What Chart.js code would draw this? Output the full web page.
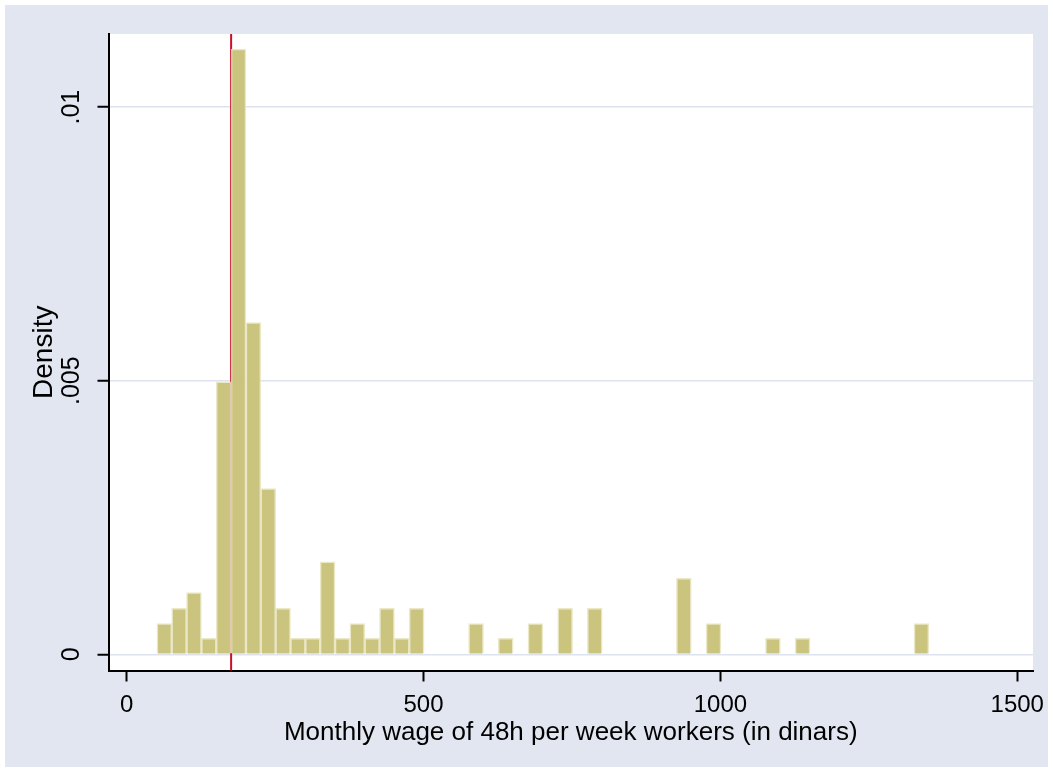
<!DOCTYPE html>
<html>
<head>
<meta charset="utf-8">
<script src="https://cdn.jsdelivr.net/npm/chart.js@4/dist/chart.umd.min.js"></script>
<style>
  html, body { margin: 0; padding: 0; background: #ffffff; }
  #wrap {
    position: absolute; left: 5px; top: 5px;
    width: 1043px; height: 762px;
    background: #e1e6f0;
  }
</style>
</head>
<body>
<div id="wrap"><canvas id="hist"></canvas></div>
<script>
'use strict';
// histogram bins (lower edge, width 25) and their density
var binWidth = 25;
var binLower = [51, 76, 101, 126, 151, 176, 201, 226, 251, 276, 301, 326, 351, 376, 401, 426, 451, 476,
                576, 626, 676, 726, 776, 926, 976, 1076, 1126, 1326];
var density  = [0.00056, 0.00084, 0.00113, 0.00029, 0.00498, 0.01106, 0.00606, 0.00303, 0.00084, 0.00029,
                0.00029, 0.00169, 0.00029, 0.00056, 0.00029, 0.00084, 0.00029, 0.00084,
                0.00056, 0.00029, 0.00056, 0.00084, 0.00084, 0.00139, 0.00056, 0.00029, 0.00029, 0.00056];
var xTicks   = [0, 500, 1000, 1500];
var yTicks   = [0, 0.005, 0.01];
var refLine  = 176;   // vertical red line

var puntos = binLower.map(function (b, i) {
    return { x : b + binWidth / 2, y : density[i] };
});

Chart.defaults.font.family = '"Liberation Sans", Arial, sans-serif';
Chart.defaults.color       = '#000';

// white plot region
var fondoBlanco = {
    id : 'fondoBlanco',
    beforeDraw : function (chart) {
        var ctx = chart.ctx, a = chart.chartArea;
        ctx.save();
        ctx.fillStyle = '#ffffff';
        ctx.fillRect(a.left, a.top, a.right - a.left, a.bottom - a.top);
        ctx.restore();
    }
};

// red line is drawn before the bars so they sit over it
var lineaRoja = {
    id : 'lineaRoja',
    beforeDatasetsDraw : function (chart) {
        var ctx = chart.ctx, area = chart.chartArea;
        var px  = chart.scales.x.getPixelForValue(refLine);
        ctx.save();
        ctx.strokeStyle = '#c8102e';
        ctx.lineWidth   = 2;
        ctx.beginPath();
        ctx.moveTo(px, area.top);
        ctx.lineTo(px, area.bottom);
        ctx.stroke();
        ctx.restore();
    }
};

var config = {
    type : 'bar',
    data : {
        datasets : [{
            data               : puntos,
            backgroundColor    : '#cbc47e',
            borderColor        : 'rgba(232,228,190,0.85)',
            borderWidth        : 1.5,
            barPercentage      : 1,
            categoryPercentage : 1,
            grouped            : false
        }]
    },
    options : {
        responsive          : true,
        maintainAspectRatio : false,
        animation           : false,
        devicePixelRatio    : 1,
        layout  : { padding : { top : 29, right : 15, left : 0, bottom : 0 } },
        plugins : { legend : { display : false }, tooltip : { enabled : false } },
        scales  : {
            x : {
                type   : 'linear',
                offset : false,
                min    : -30.5,
                max    : 1526.5,
                afterBuildTicks : function (s) { s.ticks = xTicks.map(function (v) { return { value : v }; }); },
                afterFit : function (s) { s.height = 96.5; s.paddingLeft = 0; s.paddingRight = 0; },
                ticks  : {
                    padding   : 9,
                    font      : { size : 24 },
                    maxRotation : 0,
                    callback  : function (v) { return String(v); }
                },
                grid   : {
                    drawOnChartArea : false,
                    tickLength : 11,
                    tickColor  : '#000',
                    tickWidth  : 2,
                    offset     : false
                },
                border : { color : '#000', width : 2 },
                title  : {
                    display : true,
                    text    : 'Monthly wage of 48h per week workers (in dinars)',
                    font    : { size : 26 },
                    padding : { top : 0, bottom : 19 }
                }
            },
            y : {
                min : -0.000296,
                max : 0.011336,
                afterBuildTicks : function (s) { s.ticks = yTicks.map(function (v) { return { value : v }; }); },
                afterFit : function (s) { s.width = 103.5; s.paddingTop = 0; s.paddingBottom = 0; },
                ticks : {
                    padding     : 1,
                    minRotation : 90,
                    maxRotation : 90,
                    crossAlign  : 'center',
                    font        : { size : 25 },
                    callback    : function (v) { return v === 0 ? '0' : String(v).replace(/^0/, ''); }
                },
                grid : {
                    color      : '#dde3ee',
                    lineWidth  : 1.5,
                    tickLength : 11,
                    tickColor  : '#000',
                    tickWidth  : 2
                },
                border : { color : '#000', width : 2 },
                title  : {
                    display : true,
                    text    : 'Density',
                    font    : { size : 28 },
                    padding : { top : 22, bottom : 0 }
                }
            }
        }
    },
    plugins : [fondoBlanco, lineaRoja]
};

var canvasHist = document.getElementById('hist').getContext('2d');
window.hist    = new Chart(canvasHist, config);
</script>
</body>
</html>
